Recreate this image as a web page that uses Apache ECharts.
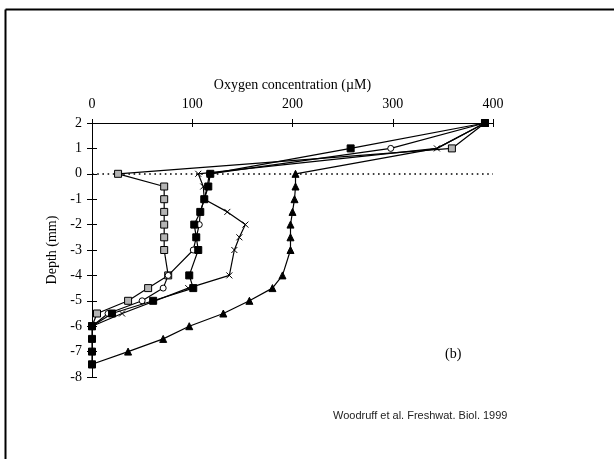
<!DOCTYPE html>
<html><head><meta charset="utf-8">
<style>html,body{margin:0;padding:0;background:#fff}#c{width:614px;height:459px}</style>
<script src="https://cdn.jsdelivr.net/npm/echarts@6/dist/echarts.min.js"></script>
</head><body><div id="c"></div>
<script>
// Oxygen concentration (µM) vs depth (mm)
const xTicks = [0, 100, 200, 300, 400];
const yTicks = [2, 1, 0, -1, -2, -3, -4, -5, -6, -7, -8];

const depthFilledSq = [2, 1, 0, -0.5, -1, -1.5, -2, -2.5, -3, -4, -4.5, -5, -5.5, -6, -6.5, -7, -7.5];
const o2FilledSq    = [392, 258, 118, 116, 112, 108, 102, 104, 106, 97, 101, 61, 20, 0, 0, 0, 0];

const depthCircle = [2, 1, 0, -0.5, -1, -1.5, -2, -2.5, -3, -4, -4.5, -5, -5.5, -6];
const o2Circle    = [392, 298, 117, 115, 112, 108, 107, 104, 101, 76, 71, 50, 16, 0];

const depthOpenSq = [2, 1, 0, -0.5, -1, -1.5, -2, -2.5, -3, -4, -4.5, -5, -5.5, -6];
const o2OpenSq    = [392, 359, 26, 72, 72, 72, 72, 72, 72, 76, 56, 36, 5, 0];

const depthCross = [2, 1, 0, -0.5, -1, -1.5, -2, -2.5, -3, -4, -4.5, -5.5, -6];
const o2Cross    = [392, 344, 106, 111, 112, 135, 153, 147, 142, 137, 96, 30, 0];

const depthTri = [2, 1, 0, -0.5, -1, -1.5, -2, -2.5, -3, -4, -4.5, -5, -5.5, -6, -6.5, -7, -7.5];
const o2Tri    = [392, 344, 203, 203, 202, 200, 198, 198, 198, 190, 180, 157, 131, 97, 71, 36, 0];
// triangle points whose marker is hidden in the original (covered by other marks)
const hiddenTriDepths = [1];

function pairs(xs, ys) { return xs.map((v, i) => [v, ys[i]]); }

const chart = echarts.init(document.getElementById('c'), null, {renderer: 'canvas'});
const serif = 'Liberation Serif';
const lineStyle = {color: '#000', width: 1.2};

function series(name, data, symbol, size, fill, z) {
  return {
    name, type: 'line', data, symbol, symbolSize: size, z,
    lineStyle, showSymbol: true,
    itemStyle: {color: fill, borderColor: '#000', borderWidth: 1},
    emphasis: {disabled: true}, animation: false
  };
}

const xBase = {
  type: 'value', min: 0, max: 400, interval: 100, position: 'top',
  splitLine: {show: false}
};
const yBase = {
  type: 'value', min: -8, max: 2, interval: 1, position: 'left',
  splitLine: {show: false}
};

const triData = pairs(o2Tri, depthTri).map(p =>
  hiddenTriDepths.includes(p[1]) ? {value: p, symbol: 'none'} : p);

chart.setOption({
  animation: false,
  backgroundColor: '#fff',
  grid: {left: 92, right: 121, top: 123, bottom: 82},
  xAxis: [
    Object.assign({}, xBase, {
      name: 'Oxygen concentration (µM)', nameLocation: 'middle', nameGap: 28,
      nameTextStyle: {fontFamily: serif, fontSize: 14, color: '#000'},
      axisLine: {show: true, onZero: false, lineStyle: {color: '#000', width: 1}},
      axisTick: {show: true, inside: false, length: 4, lineStyle: {color: '#000'}},
      axisLabel: {fontFamily: serif, fontSize: 14, color: '#000', margin: 12}
    }),
    Object.assign({}, xBase, {
      axisLine: {show: false, onZero: false},
      axisTick: {show: true, inside: true, length: 4, lineStyle: {color: '#000'}},
      axisLabel: {show: false}
    })
  ],
  yAxis: [
    Object.assign({}, yBase, {
      name: 'Depth (mm)', nameLocation: 'middle', nameGap: 25,
      nameTextStyle: {fontFamily: serif, fontSize: 14, color: '#000'},
      axisLine: {show: true, onZero: false, lineStyle: {color: '#000', width: 1}},
      axisTick: {show: true, inside: false, length: 5, lineStyle: {color: '#000'}},
      axisLabel: {fontFamily: serif, fontSize: 14, color: '#000', margin: 10}
    }),
    Object.assign({}, yBase, {
      axisLine: {show: false, onZero: false},
      axisTick: {show: true, inside: true, length: 5, lineStyle: {color: '#000'}},
      axisLabel: {show: false}
    })
  ],
  series: [
    {
      type: 'line', data: [], markLine: {
        silent: true, symbol: 'none', label: {show: false},
        lineStyle: {color: '#000', width: 1.6, type: [1.6, 3.6]},
        data: [{yAxis: 0}]
      }
    },
    Object.assign(series('tri', [], 'triangle', 7, '#000', 3), {data: triData}),
    series('cross', pairs(o2Cross, depthCross), 'path://M0,0L10,10M10,0L0,10', 6, 'none', 4),
    series('openSq', pairs(o2OpenSq, depthOpenSq), 'rect', 7, '#b4b4b4', 5),
    series('circle', pairs(o2Circle, depthCircle), 'circle', 6, '#fff', 6),
    series('filledSq', pairs(o2FilledSq, depthFilledSq), 'rect', 7, '#000', 7)
  ],
  graphic: [
    {type: 'line', shape: {x1: 5.5, y1: 9.5, x2: 614, y2: 9.5}, style: {stroke: '#000', lineWidth: 2}},
    {type: 'line', shape: {x1: 5.5, y1: 9.5, x2: 5.5, y2: 459}, style: {stroke: '#000', lineWidth: 2}},
    {type: 'text', left: 445, top: 347, style: {text: '(b)', font: '14px "Liberation Serif"', fill: '#000'}},
    {type: 'text', left: 333, top: 410, style: {text: 'Woodruff et al. Freshwat. Biol. 1999', font: '11px "Liberation Sans"', fill: '#222'}}
  ]
});
</script></body></html>
